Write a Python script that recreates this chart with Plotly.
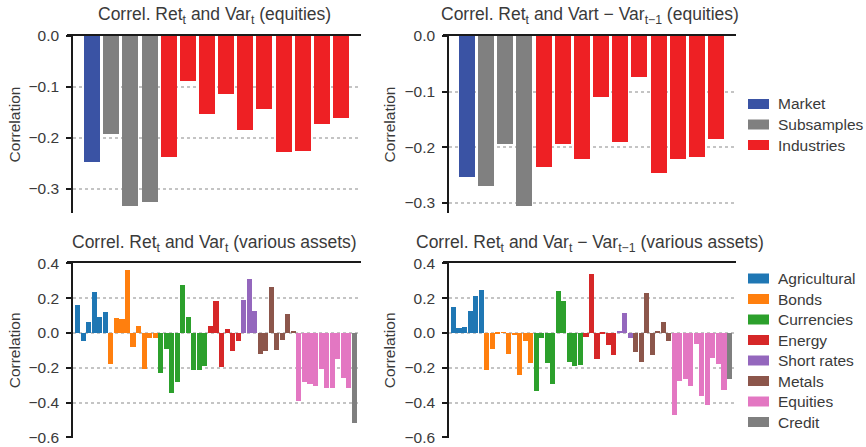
import plotly.graph_objects as go

# ---------------- data ----------------
eq_groups = ["Market", "Subsamples", "Industries"]
eq_counts = [1, 3, 10]
eq_colors = ["#3a53a4", "#808080", "#ee2024"]
eq_levels = [-0.247, -0.192, -0.333, -0.325, -0.237, -0.088, -0.153, -0.114,
             -0.184, -0.143, -0.227, -0.225, -0.172, -0.160]
eq_diff = [-0.254, -0.270, -0.194, -0.306, -0.236, -0.194, -0.221, -0.110,
           -0.191, -0.074, -0.247, -0.221, -0.218, -0.185]

as_groups = ["Agricultural", "Bonds", "Currencies", "Energy", "Short rates",
             "Metals", "Equities", "Credit"]
as_colors = ["#1f77b4", "#ff7f0e", "#2ca02c", "#d62728", "#9467bd",
             "#8c564b", "#e377c2", "#7f7f7f"]
agri_lvl = [0.159, -0.047, 0.064, 0.232, 0.092, 0.120]
bond_lvl = [-0.181, 0.086, 0.080, 0.361, -0.080, 0.036, -0.209, -0.030, -0.030]
curr_lvl = [-0.232, -0.092, -0.344, -0.282, 0.271, 0.092, -0.215, -0.213, -0.189]
ener_lvl = [0.041, 0.181, -0.198, 0.019, -0.103, -0.047]
shrt_lvl = [0.187, 0.310, 0.125]
metl_lvl = [-0.120, -0.108, 0.265, -0.097, -0.041, 0.108, 0.007]
equi_lvl = [-0.394, -0.282, -0.293, -0.305, -0.209, -0.316, -0.316, -0.153, -0.260, -0.316]
cred_lvl = [-0.518]

agri_dif = [0.148, 0.024, 0.030, 0.125, 0.209, 0.243]
bond_dif = [-0.215, -0.092, -0.003, -0.002, -0.125, -0.013, -0.243, -0.047, -0.176]
curr_dif = [-0.333, -0.030, -0.176, -0.293, 0.237, 0.181, -0.170, -0.193, -0.187]
ener_dif = [-0.023, 0.338, -0.153, -0.004, -0.069, -0.131]
shrt_dif = [0.006, 0.114, -0.030]
metl_dif = [-0.114, -0.170, 0.226, -0.131, 0.006, 0.064, -0.047]
equi_dif = [-0.473, -0.277, -0.265, -0.305, -0.064, -0.366, -0.417, -0.148, -0.181, -0.327]
cred_dif = [-0.265]

as_levels = [agri_lvl, bond_lvl, curr_lvl, ener_lvl, shrt_lvl, metl_lvl, equi_lvl, cred_lvl]
as_diffs = [agri_dif, bond_dif, curr_dif, ener_dif, shrt_dif, metl_dif, equi_dif, cred_dif]

top_ticks = [0.0, -0.1, -0.2, -0.3]
bot_ticks = [0.4, 0.2, 0.0, -0.2, -0.4, -0.6]

titles = [
    "Correl. Ret<sub>t</sub> and Var<sub>t</sub> (equities)",
    "Correl. Ret<sub>t</sub> and Vart \u2212 Var<sub>t\u22121</sub> (equities)",
    "Correl. Ret<sub>t</sub> and Var<sub>t</sub> (various assets)",
    "Correl. Ret<sub>t</sub> and Var<sub>t</sub> \u2212 Var<sub>t\u22121</sub> (various assets)",
]

# ---------------- figure ----------------
W, H = 866, 447
FONT = "Liberation Sans"
TXT = "#3a3a3a"
fig = go.Figure()


def add_group_bars(values, names, colors, counts, xa, ya, width):
    start = 0
    for name, col, n in zip(names, colors, counts):
        xs = list(range(start, start + n))
        fig.add_trace(go.Bar(
            x=xs, y=values[start:start + n], name=name, marker_color=col,
            marker_line_width=0, width=width, xaxis=xa, yaxis=ya,
            showlegend=False, hoverinfo="skip"))
        start += n


add_group_bars(eq_levels, eq_groups, eq_colors, eq_counts, "x", "y", 0.835)
add_group_bars(eq_diff, eq_groups, eq_colors, eq_counts, "x2", "y2", 0.835)

flat_lvl = [v for g in as_levels for v in g]
flat_dif = [v for g in as_diffs for v in g]
as_counts = [len(g) for g in as_levels]
add_group_bars(flat_lvl, as_groups, as_colors, as_counts, "x3", "y3", 0.92)
add_group_bars(flat_dif, as_groups, as_colors, as_counts, "x4", "y4", 0.92)


def px(v):
    return v / W


def py(v):
    return 1 - v / H


def fmt(t):
    s = f"{abs(t):.1f}"
    return ("\u2212" + s) if t < 0 else s


xdoms = [[px(67), px(361)], [px(443), px(736)]]
ydoms = [[py(213), py(36)], [py(437.5), py(263.3)]]
xranges = [[-1.31, 14.04], [-1.25, 14.04], [-1.94, 51.22], [-1.9, 51.18]]
yranges = [[-0.347, 0.0], [-0.318, 0.0], [-0.6005, 0.4], [-0.6005, 0.4]]
ypos = [px(72), px(448), px(72), px(448)]
standoffs = [3, 4, 3, 4]

layout = dict(
    width=W, height=H, margin=dict(l=0, r=0, t=0, b=0, autoexpand=False),
    paper_bgcolor="white", plot_bgcolor="white",
    font=dict(family=FONT, size=15, color=TXT),
    bargap=0, barmode="overlay", showlegend=False,
)

annotations = []
shapes = []
for i in range(4):
    sfx = "" if i == 0 else str(i + 1)
    row, col = divmod(i, 2)
    ticks = top_ticks if row == 0 else bot_ticks
    layout["xaxis" + sfx] = dict(
        domain=xdoms[col], range=xranges[i], anchor="y" + sfx, side="top",
        showline=True, linecolor="#1a1a1a", linewidth=1.8,
        showticklabels=False, ticks="", showgrid=False, zeroline=False,
        fixedrange=True)
    layout["yaxis" + sfx] = dict(
        domain=ydoms[row], range=yranges[i], anchor="free", position=ypos[i],
        showline=True, linecolor="#1a1a1a", linewidth=1.5,
        ticks="outside", ticklen=5, tickwidth=1.5, tickcolor="#1a1a1a",
        tickvals=ticks, ticktext=[fmt(t) for t in ticks],
        tickfont=dict(size=15.5, color=TXT), ticklabelstandoff=4,
        ticklabeloverflow="allow",
        showgrid=True, gridcolor="#c4c4c4", gridwidth=1.5, griddash="dot",
        zeroline=False, fixedrange=True,
        title=dict(text="Correlation", font=dict(size=15.5, color=TXT),
                   standoff=standoffs[i]))
    annotations.append(dict(
        text=titles[i], xref="paper", yref="paper",
        x=(xdoms[col][0] + xdoms[col][1]) / 2,
        y=py(29 if row == 0 else 257), xanchor="center", yanchor="bottom",
        showarrow=False, font=dict(size=17.5, color=TXT)))

# legends (swatch + label per group)
def add_legend(names, colors, y0, step):
    for k, (name, col) in enumerate(zip(names, colors)):
        yc = y0 + k * step
        shapes.append(dict(type="rect", xref="paper", yref="paper",
                           x0=px(748), x1=px(769), y0=py(yc + 5), y1=py(yc - 5),
                           fillcolor=col, line=dict(width=0)))
        annotations.append(dict(text=name, xref="paper", yref="paper",
                                x=px(776), y=py(yc), xanchor="left", yanchor="middle",
                                showarrow=False, font=dict(size=15.5, color=TXT)))


add_legend(eq_groups, eq_colors, 104, 20.5)
add_legend(as_groups, as_colors, 278.5, 20.5)

layout["annotations"] = annotations
layout["shapes"] = shapes
fig.update_layout(**layout)
fig.write_html("out.html")
